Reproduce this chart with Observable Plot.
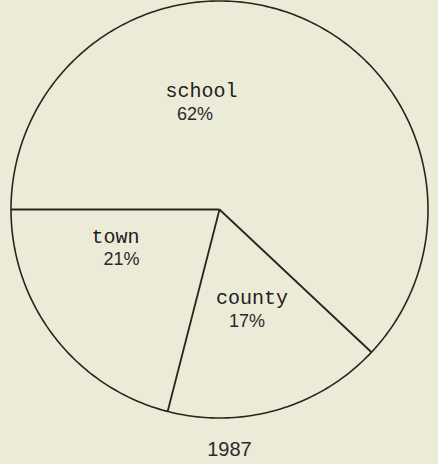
<!DOCTYPE html>
<html>
<head>
<meta charset="utf-8">
<script src="https://cdn.jsdelivr.net/npm/d3@7"></script>
<script src="https://cdn.jsdelivr.net/npm/@observablehq/plot@0.6"></script>
<style>
  html, body { margin: 0; padding: 0; background: #ecebd7; }
  #chart { width: 438px; }
  #caption { width: 438px; text-align: center; font-family: "Liberation Sans", Arial, sans-serif; font-size: 20px; color: #2a2a2a; margin-top: 13px; padding-left: 21px; box-sizing: border-box; }
</style>
</head>
<body>
<div id="chart"></div>
<div id="caption"></div>
<script>
// ---- data ----
const categories = ["school", "county", "town"];
const shares = [62, 17, 21];
const year = "1987";

// ---- layout / styling (not data) ----
const ink = "#2b241c";
const labelRadius = 0.53;
// pixel nudges of labels from slice centroids [name dx, name dy, pct dx, pct dy]
const nudge = {
  school: [-58.7, -15.7, -65.2, 7.4],
  town: [-16.6, -41, -10.6, -18.0],
  county: [1.7, -18.5, -3.3, 6.1]
};

const W = 438, H = 425;
const marginLeft = 10.5, marginRight = 10.5, marginTop = 0.5, marginBottom = 7.5;
const pxPerUnit = (W - marginLeft - marginRight) / 2;

const pie = d3.pie().sort(null).value((d) => d.value).startAngle(-Math.PI / 2).endAngle(1.5 * Math.PI);
const slices = pie(categories.map((c, i) => ({ name: c, value: shares[i] })));

// circle outline
const circle = d3.range(0, 361).map((deg) => {
  const a = (deg * Math.PI) / 180;
  return { x: Math.sin(a), y: Math.cos(a) };
});
// slice boundaries
const radii = slices.map((s) => ({ x: Math.sin(s.startAngle), y: Math.cos(s.startAngle) }));

const labels = slices.map((s) => {
  const mid = (s.startAngle + s.endAngle) / 2;
  const cx = labelRadius * Math.sin(mid), cy = labelRadius * Math.cos(mid);
  const n = nudge[s.data.name];
  return {
    name: s.data.name,
    pct: `${s.data.value}%`,
    nx: cx + n[0] / pxPerUnit, ny: cy - n[1] / pxPerUnit,
    px: cx + n[2] / pxPerUnit, py: cy - n[3] / pxPerUnit
  };
});

const plot = Plot.plot({
  width: W,
  height: H,
  marginLeft, marginRight, marginTop, marginBottom,
  x: { domain: [-1, 1], axis: null },
  y: { domain: [-1, 1], axis: null },
  style: { background: "transparent", overflow: "visible" },
  marks: [
    Plot.line(circle, { x: "x", y: "y", stroke: ink, strokeWidth: 1.6 }),
    Plot.link(radii, { x1: 0, y1: 0, x2: "x", y2: "y", stroke: ink, strokeWidth: 1.8 }),
    Plot.text(labels, { x: "nx", y: "ny", text: "name", fill: "#1e1e1e", fontSize: 20, fontFamily: "Liberation Mono, monospace" }),
    Plot.text(labels, { x: "px", y: "py", text: "pct", fill: "#2a2a2a", fontSize: 18, fontFamily: "Liberation Sans, Arial, sans-serif" })
  ]
});
document.getElementById("chart").appendChild(plot);
document.getElementById("caption").textContent = year;
</script>
</body>
</html>
